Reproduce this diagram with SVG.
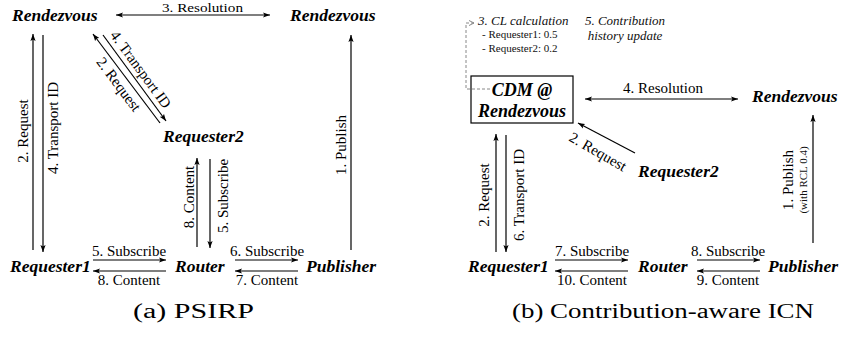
<svg xmlns="http://www.w3.org/2000/svg" width="842" height="342" viewBox="0 0 842 342">
<style>
.node{font-family:"Liberation Serif","Times New Roman",serif;font-weight:bold;font-style:italic;font-size:17.5px;fill:#000}
.lbl{font-family:"Liberation Serif","Times New Roman",serif;font-size:15px;fill:#000}
.note{font-family:"Liberation Serif","Times New Roman",serif;font-style:italic;font-size:13px;fill:#111}
.small{font-family:"Liberation Serif","Times New Roman",serif;font-size:11px;fill:#111}
.cap{font-family:"Liberation Serif","Times New Roman",serif;font-size:20px;fill:#000}
.ln{stroke:#000;stroke-width:1.2;fill:none}
.dash{stroke:#888;stroke-width:1;fill:none;stroke-dasharray:3,2}
</style>
<defs>
<marker id="ah" markerUnits="userSpaceOnUse" markerWidth="8" markerHeight="6" refX="7" refY="3" orient="auto-start-reverse">
<path d="M0,0.4 L7,3 L0,5.6 L1.5,3 z" fill="#000"/>
</marker>
<marker id="ahg" markerUnits="userSpaceOnUse" markerWidth="6" markerHeight="6" refX="5" refY="3" orient="auto">
<path d="M0,0.5 L5,3 L0,5.5" fill="none" stroke="#888" stroke-width="1"/>
</marker>
</defs>

<!-- ===== Diagram (a) ===== -->
<g id="a-rendezvous-left"><text class="node" x="12" y="21">Rendezvous</text></g>
<g id="a-rendezvous-right"><text class="node" x="290" y="21">Rendezvous</text></g>
<g id="a-requester2"><text class="node" x="163" y="142">Requester2</text></g>
<g id="a-requester1"><text class="node" x="10" y="272">Requester1</text></g>
<g id="a-router"><text class="node" x="175" y="272">Router</text></g>
<g id="a-publisher"><text class="node" x="306" y="272">Publisher</text></g>

<g id="a-connectors">
<line class="ln" x1="116" y1="15" x2="270" y2="15" marker-start="url(#ah)" marker-end="url(#ah)"/>
<line class="ln" x1="33" y1="250" x2="33" y2="34" marker-end="url(#ah)"/>
<line class="ln" x1="43" y1="35" x2="43" y2="252" marker-end="url(#ah)"/>
<line class="ln" x1="160" y1="123" x2="93" y2="34" marker-end="url(#ah)"/>
<line class="ln" x1="103" y1="35" x2="166" y2="121" marker-end="url(#ah)"/>
<line class="ln" x1="197" y1="247" x2="197" y2="158" marker-end="url(#ah)"/>
<line class="ln" x1="210" y1="159" x2="210" y2="248" marker-end="url(#ah)"/>
<line class="ln" x1="351" y1="250" x2="351" y2="35" marker-end="url(#ah)"/>
<line class="ln" x1="93" y1="260" x2="166" y2="260" marker-end="url(#ah)"/>
<line class="ln" x1="166" y1="271" x2="93" y2="271" marker-end="url(#ah)"/>
<line class="ln" x1="235" y1="260" x2="298" y2="260" marker-end="url(#ah)"/>
<line class="ln" x1="298" y1="271" x2="235" y2="271" marker-end="url(#ah)"/>
<text class="lbl" x="162" y="12" style="font-size:13.5px" textLength="81" lengthAdjust="spacingAndGlyphs">3. Resolution</text>
<text class="lbl" text-anchor="middle" transform="translate(28,131) rotate(-90)">2. Request</text>
<text class="lbl" text-anchor="middle" transform="translate(58,128) rotate(-90)">4. Transport ID</text>
<text class="lbl" text-anchor="middle" transform="translate(136.8,72.4) rotate(53.8)">4. Transport ID</text>
<text class="lbl" text-anchor="middle" transform="translate(114.8,87.4) rotate(53)">2. Request</text>
<text class="lbl" text-anchor="middle" transform="translate(194,197) rotate(-90)">8. Content</text>
<text class="lbl" text-anchor="middle" transform="translate(228,196) rotate(-90)">5. Subscribe</text>
<text class="lbl" text-anchor="middle" transform="translate(346,145) rotate(-90)">1. Publish</text>
<text class="lbl" x="129" y="256" text-anchor="middle">5. Subscribe</text>
<text class="lbl" x="129" y="285" text-anchor="middle">8. Content</text>
<text class="lbl" x="267" y="256" text-anchor="middle">6. Subscribe</text>
<text class="lbl" x="267" y="285" text-anchor="middle">7. Content</text>
</g>

<!-- ===== Diagram (b) ===== -->
<g id="b-cdm">
<rect x="471" y="76" width="102" height="47" fill="none" stroke="#000" stroke-width="1.2"/>
<text class="node" x="522" y="96" text-anchor="middle" style="font-size:18px">CDM @</text>
<text class="node" x="522" y="117" text-anchor="middle" style="font-size:18px">Rendezvous</text>
</g>
<g id="b-note">
<text class="note" x="478" y="25">3. CL calculation</text>
<text class="small" x="482" y="38">- Requester1: 0.5</text>
<text class="small" x="482" y="52">- Requester2: 0.2</text>
<text class="note" x="625" y="25" text-anchor="middle">5. Contribution</text>
<text class="note" x="625" y="40" text-anchor="middle">history update</text>
</g>
<g id="b-rendezvous"><text class="node" x="752" y="102">Rendezvous</text></g>
<g id="b-requester2"><text class="node" x="638" y="177">Requester2</text></g>
<g id="b-requester1"><text class="node" x="468" y="272">Requester1</text></g>
<g id="b-router"><text class="node" x="638" y="272">Router</text></g>
<g id="b-publisher"><text class="node" x="768" y="272">Publisher</text></g>

<g id="b-connectors">
<polyline class="dash" points="490,89 466,89 466,23 474,23" marker-end="url(#ahg)"/>
<line class="ln" x1="585" y1="99" x2="738" y2="99" marker-start="url(#ah)" marker-end="url(#ah)"/>
<line class="ln" x1="496" y1="252" x2="496" y2="134" marker-end="url(#ah)"/>
<line class="ln" x1="506" y1="135" x2="506" y2="252" marker-end="url(#ah)"/>
<line class="ln" x1="635" y1="153" x2="578" y2="123" marker-end="url(#ah)"/>
<line class="ln" x1="813" y1="243" x2="813" y2="115" marker-end="url(#ah)"/>
<line class="ln" x1="555" y1="260" x2="628" y2="260" marker-end="url(#ah)"/>
<line class="ln" x1="628" y1="271" x2="555" y2="271" marker-end="url(#ah)"/>
<line class="ln" x1="697" y1="260" x2="760" y2="260" marker-end="url(#ah)"/>
<line class="ln" x1="760" y1="271" x2="697" y2="271" marker-end="url(#ah)"/>
<text class="lbl" x="663" y="93" text-anchor="middle">4. Resolution</text>
<text class="lbl" text-anchor="middle" transform="translate(489,195) rotate(-90)">2. Request</text>
<text class="lbl" text-anchor="middle" transform="translate(524,195) rotate(-90)">6. Transport ID</text>
<text class="lbl" text-anchor="middle" transform="translate(595.5,156) rotate(30)">2. Request</text>
<text class="lbl" text-anchor="middle" transform="translate(793,180) rotate(-90)">1. Publish</text>
<text class="small" text-anchor="middle" transform="translate(807,180) rotate(-90)">(with RCL 0.4)</text>
<text class="lbl" x="592" y="256" text-anchor="middle">7. Subscribe</text>
<text class="lbl" x="592" y="285" text-anchor="middle">10. Content</text>
<text class="lbl" x="728" y="256" text-anchor="middle">8. Subscribe</text>
<text class="lbl" x="728" y="285" text-anchor="middle">9. Content</text>
</g>

<g id="captions">
<text class="cap" x="133" y="318" textLength="121" lengthAdjust="spacingAndGlyphs">(a) PSIRP</text>
<text class="cap" x="512" y="318" textLength="302" lengthAdjust="spacingAndGlyphs">(b) Contribution-aware ICN</text>
</g>
</svg>
